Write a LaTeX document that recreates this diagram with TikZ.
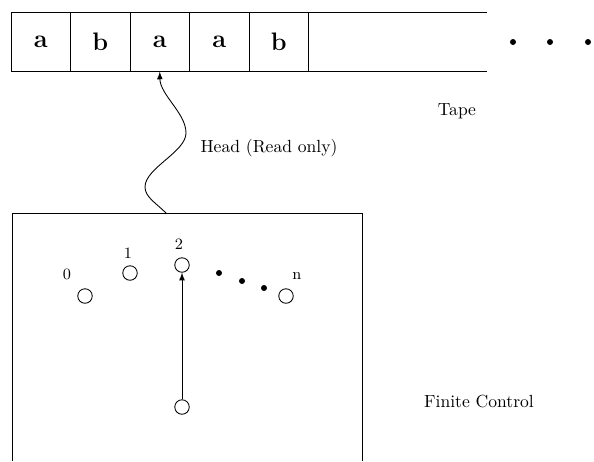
\documentclass[tikz,border=0pt]{standalone}
\usetikzlibrary{positioning}
\tikzset{
  cell/.style={draw, minimum width=1.19cm, minimum height=1.18cm, inner sep=0pt, outer sep=0pt, font=\Large\bfseries},
  state/.style={draw, circle, minimum size=0.29cm, inner sep=0pt},
  blob/.style={circle, fill=black, minimum size=0.12cm, inner sep=0pt}
}
\begin{document}
\begin{tikzpicture}[x=0.02cm, y=-0.02cm, line width=0.5pt]
                    \useasboundingbox (0,0) rectangle (594,461);

                    % Tape
                    \node[cell] (c1) at (40.8,42.2) {a};
                    \node[cell, right=0pt of c1] (c2) {b};
                    \node[cell, right=0pt of c2] (c3) {a};
                    \node[cell, right=0pt of c3] (c4) {a};
                    \node[cell, right=0pt of c4] (c5) {b};
                    \draw (c5.north east) -- ++(178,0);
                    \draw (c5.south east) -- ++(178,0);
                    \node[blob] (t1) at (513,42) {};
                    \node[blob] (t2) at (550,42) {};
                    \node[blob] (t3) at (588,42) {};
                    \node (tape) at (457,111) {Tape};

                    % Finite control
                    \draw (12,461) -- (12,213) -- (362,213) -- (362,461);
                    \coordinate (hd) at (166,213);
                    \node (head) at (269,148) {Head (Read only)};
                    \draw[-latex] (hd) .. controls (156,203) and (145,197) .. (145,187)
                        .. controls (145,168) and (186,152) .. (186,133)
                        .. controls (186,113) and (160,95) .. (c3.south);

                    % States
                    \node[state] (q0) at (85,296) {};
                    \node[state] (q1) at (130,273) {};
                    \node[state] (q2) at (182,265) {};
                    \node[state] (qn) at (286,296) {};
                    \node[state] (s) at (182,407) {};
                    \node[font=\small] (l0) at (67,274) {0};
                    \node[font=\small] (l1) at (128,253) {1};
                    \node[font=\small] (l2) at (179,244) {2};
                    \node[font=\small] (ln) at (297,276) {n};
                    \node[blob] (d1) at (219,273) {};
                    \node[blob] (d2) at (242,281) {};
                    \node[blob] (d3) at (264,288) {};
                    \draw[-latex] (s) -- (q2);
                    \node (fc) at (479,401) {Finite Control};
                \end{tikzpicture}
\end{document}
